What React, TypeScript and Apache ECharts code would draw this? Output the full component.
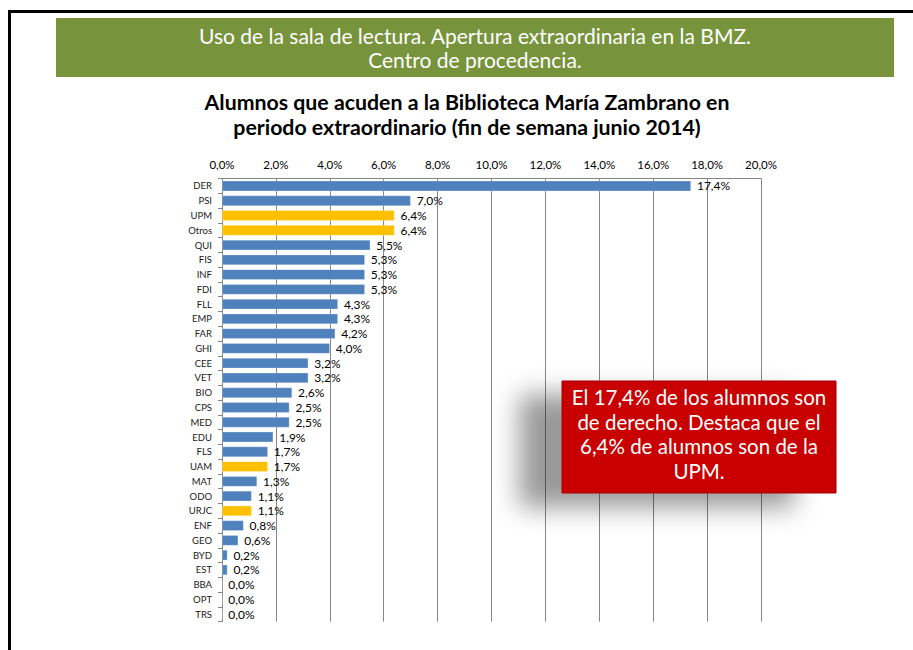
import React, { useEffect, useRef } from "react";
import * as echarts from "echarts";

const categories = ["DER","PSI","UPM","Otros","QUI","FIS","INF","FDI","FLL","EMP","FAR","GHI","CEE","VET","BIO","CPS","MED","EDU","FLS","UAM","MAT","ODO","URJC","ENF","GEO","BYD","EST","BBA","OPT","TRS"];
const values = [17.4,7.0,6.4,6.4,5.5,5.3,5.3,5.3,4.3,4.3,4.2,4.0,3.2,3.2,2.6,2.5,2.5,1.9,1.7,1.7,1.3,1.1,1.1,0.8,0.6,0.2,0.2,0.0,0.0,0.0];
const highlighted = ["UPM","Otros","UAM","URJC"];
const bannerLines = ["Uso de la sala de lectura. Apertura extraordinaria en la BMZ.", "Centro de procedencia."];
const titleLines = ["Alumnos que acuden a la Biblioteca María Zambrano en", "periodo extraordinario (fin de semana junio 2014)"];
const calloutLines = ["El 17,4% de los alumnos son", "de derecho. Destaca que el", "6,4% de alumnos son de la", "UPM."];

const fmt = (v: number) => v.toFixed(1).replace(".", ",") + "%";

export default function App() {
  const ref = useRef<HTMLDivElement>(null);
  useEffect(() => {
    if (!ref.current) return;
    const chart = echarts.init(ref.current, null, { renderer: "svg" });
    const font = "Lato, 'Open Sans', sans-serif";
    chart.setOption({
      animation: false,
      backgroundColor: "#ffffff",
      textStyle: { fontFamily: font },
      grid: { left: 222, right: 152, top: 178.6, height: 443 },
      xAxis: {
        type: "value",
        position: "top",
        min: 0,
        max: 20,
        interval: 2,
        axisLine: { show: true, lineStyle: { color: "#868686", width: 1 } },
        axisTick: { show: false },
        axisLabel: { formatter: (v: number) => fmt(v), color: "#000", fontSize: 11.5, fontFamily: font, margin: 8 },
        splitLine: { show: true, lineStyle: { color: "#868686", width: 1 } },
      },
      yAxis: {
        type: "category",
        data: categories,
        inverse: true,
        axisLine: { show: true, lineStyle: { color: "#868686", width: 1 } },
        axisTick: { show: true, length: 4, lineStyle: { color: "#868686" } },
        axisLabel: { color: "#1a1a1a", fontSize: 9.5, fontFamily: font, margin: 10 },
      },
      series: [
        {
          type: "bar",
          data: values.map((v, i) => ({
            value: v,
            itemStyle: { color: highlighted.includes(categories[i]) ? "#FFC000" : "#4F81BD" },
          })),
          barCategoryGap: "30%",
          itemStyle: { borderColor: "rgba(255,255,255,0.5)", borderWidth: 0.5 },
          label: {
            show: true,
            position: "right",
            distance: 6,
            formatter: (p: any) => fmt(p.value),
            color: "#000",
            fontSize: 12,
            fontFamily: font,
          },
        },
      ],
      graphic: [
        { type: "rect", shape: { x: 8, y: 10, width: 905, height: 3 }, style: { fill: "#000" } },
        { type: "rect", shape: { x: 8, y: 10, width: 3, height: 640 }, style: { fill: "#000" } },
        { type: "rect", shape: { x: 56, y: 18, width: 838, height: 59 }, style: { fill: "#77933C" } },
        {
          type: "text",
          x: 475,
          y: 47.5,
          style: {
            text: bannerLines.join("\n"),
            fill: "#ffffff",
            font: `400 21px ${font}`,
            align: "center",
            verticalAlign: "middle",
            lineHeight: 24.5,
          },
        },
        {
          type: "text",
          x: 467,
          y: 114,
          style: {
            text: titleLines.join("\n"),
            fill: "#000",
            font: `bold 21.3px ${font}`,
            align: "center",
            verticalAlign: "middle",
            lineHeight: 25,
          },
        },
        {
          type: "rect",
          z: 100,
          shape: { x: 562, y: 381, width: 274, height: 112 },
          style: {
            fill: "#C80000",
            stroke: "#A00000",
            lineWidth: 1,
            shadowBlur: 26,
            shadowOffsetX: -42,
            shadowOffsetY: 14,
            shadowColor: "rgba(0,0,0,0.4)",
          },
        },
        {
          type: "text",
          z: 101,
          x: 699,
          y: 434,
          style: {
            text: calloutLines.join("\n"),
            fill: "#ffffff",
            font: `20.5px ${font}`,
            align: "center",
            verticalAlign: "middle",
            lineHeight: 24.5,
          },
        },
      ],
    });
    return () => chart.dispose();
  }, []);
  return <div ref={ref} style={{ position: "absolute", left: 0, top: 0, width: 913, height: 650 }} />;
}
